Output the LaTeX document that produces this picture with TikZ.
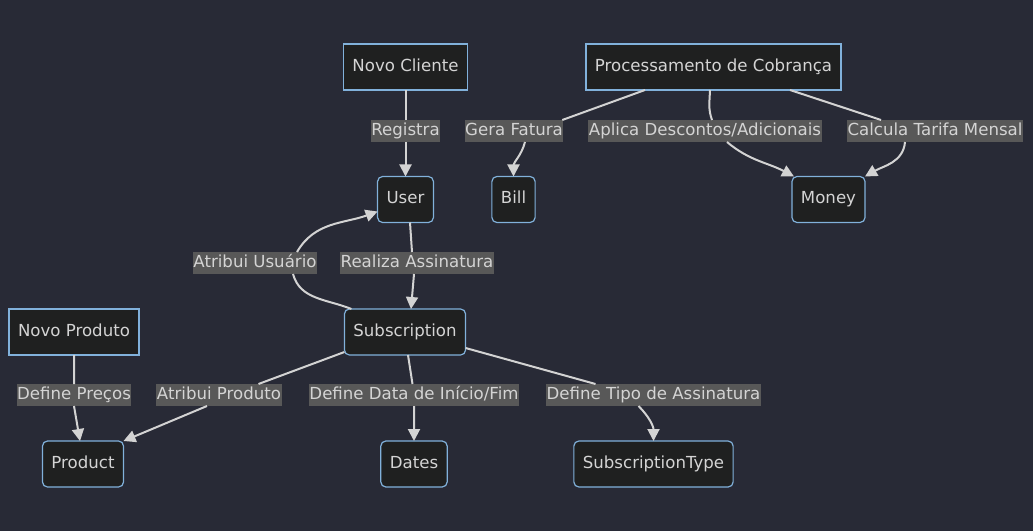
\documentclass[tikz,border=0pt]{standalone}
\usepackage{fontspec}
\setmainfont{DejaVu Sans}
\usetikzlibrary{arrows.meta,positioning}
\definecolor{bgColor}{HTML}{282A36}
\definecolor{boxFill}{HTML}{1F2020}
\definecolor{boxLine}{HTML}{81B1DB}
\definecolor{txtColor}{HTML}{D4D4D4}
\definecolor{lblFill}{HTML}{585858}
\definecolor{edgeColor}{HTML}{D3D3D3}
\tikzset{
	box/.style={draw=boxLine, fill=boxFill, text=txtColor, line width=1.2pt, minimum height=46pt, inner xsep=9pt, text height=12.5pt, text depth=3.5pt, outer sep=0},
	rbox/.style={box, rounded corners=5pt},
	lbl/.style={fill=lblFill, text=txtColor, inner xsep=0.5pt, inner ysep=0pt, minimum height=22pt, text height=12.5pt, text depth=3.5pt, outer sep=0},
	flow/.style={draw=edgeColor, line width=2pt, -{Triangle[length=12pt,width=12pt]}}
}
\begin{document}
\begin{tikzpicture}[x=1pt, y=1pt, font=\fontsize{16.6pt}{19pt}\selectfont]
	\fill[bgColor] (0,0) rectangle (1033,531);
	
	\node[box] (nc) at (405.5,464) {Novo Cliente};
	\node[box] (pc) at (713.5,464) {Processamento de Cobrança};
	\node[rbox] (user) at (405.5,331.5) {User};
	\node[rbox] (bill) at (513.5,331.5) {Bill};
	\node[rbox] (money) at (828.5,331.5) {Money};
	\node[box] (np) at (74,199) {Novo Produto};
	\node[rbox] (sub) at (405,199) {Subscription};
	\node[rbox] (prod) at (83,67) {Product};
	\node[rbox] (dates) at (414,67) {Dates};
	\node[rbox] (stype) at (653.5,67) {SubscriptionType};
	
	% edge labels
	\node[lbl] (reg) at (405.5,400) {Registra};
	\node[lbl] (gf) at (514,400) {Gera Fatura};
	\node[lbl] (ad) at (705,400) {Aplica Descontos/Adicionais};
	\node[lbl] (ct) at (935,400) {Calcula Tarifa Mensal};
	\node[lbl] (au) at (255,268) {Atribui Usuário};
	\node[lbl] (ra) at (417,268) {Realiza Assinatura};
	\node[lbl] (dp) at (74,136) {Define Preços};
	\node[lbl] (ap) at (219,136) {Atribui Produto};
	\node[lbl] (dd) at (414,136) {Define Data de Início/Fim};
	\node[lbl] (dt) at (653.5,136) {Define Tipo de Assinatura};
	
	\draw[flow] (nc) -- (reg.north) (reg.south) -- (user);
	\draw[flow] ([xshift=-68.5pt]pc.south) -- ([xshift=-1pt]gf.north east) ([xshift=11pt]gf.south) to[out=-105,in=90] (bill);
	\draw[flow] ([xshift=-3.5pt]pc.south) to[out=-92,in=110] ([xshift=7pt]ad.north) ([xshift=22pt]ad.south) to[out=-40,in=152] ([xshift=2pt]money.north west);
	\draw[flow] ([xshift=76.5pt]pc.south) -- ([xshift=34pt]ct.north west) ([xshift=-30pt]ct.south) to[out=-95,in=30] (money.north east);
	\draw[flow] ([xshift=4.5pt]user.south) -- ([xshift=-5pt]ra.north) ([xshift=-3pt]ra.south) -- ([xshift=6pt]sub.north);
	\draw[flow] ([xshift=7pt]sub.north west) to[out=158,in=-75] ([xshift=-24pt]au.south east) ([xshift=-20pt]au.north east) to[out=60,in=200] ([yshift=-12pt]user.west);
	\draw[flow] (np) -- (dp.north) (dp.south) -- ([xshift=-3pt]prod.north);
	\draw[flow] ([yshift=3pt]sub.south west) -- ([xshift=-23pt]ap.north east) ([xshift=-12pt]ap.south) -- (prod.north east);
	\draw[flow] ([xshift=3pt]sub.south) -- ([xshift=-1.5pt]dd.north) (dd.south) -- (dates);
	\draw[flow] ([yshift=-16pt]sub.east) -- ([xshift=-58pt]dt.north) ([xshift=-15pt]dt.south) to[out=-45,in=90] (stype);
\end{tikzpicture}
\end{document}
